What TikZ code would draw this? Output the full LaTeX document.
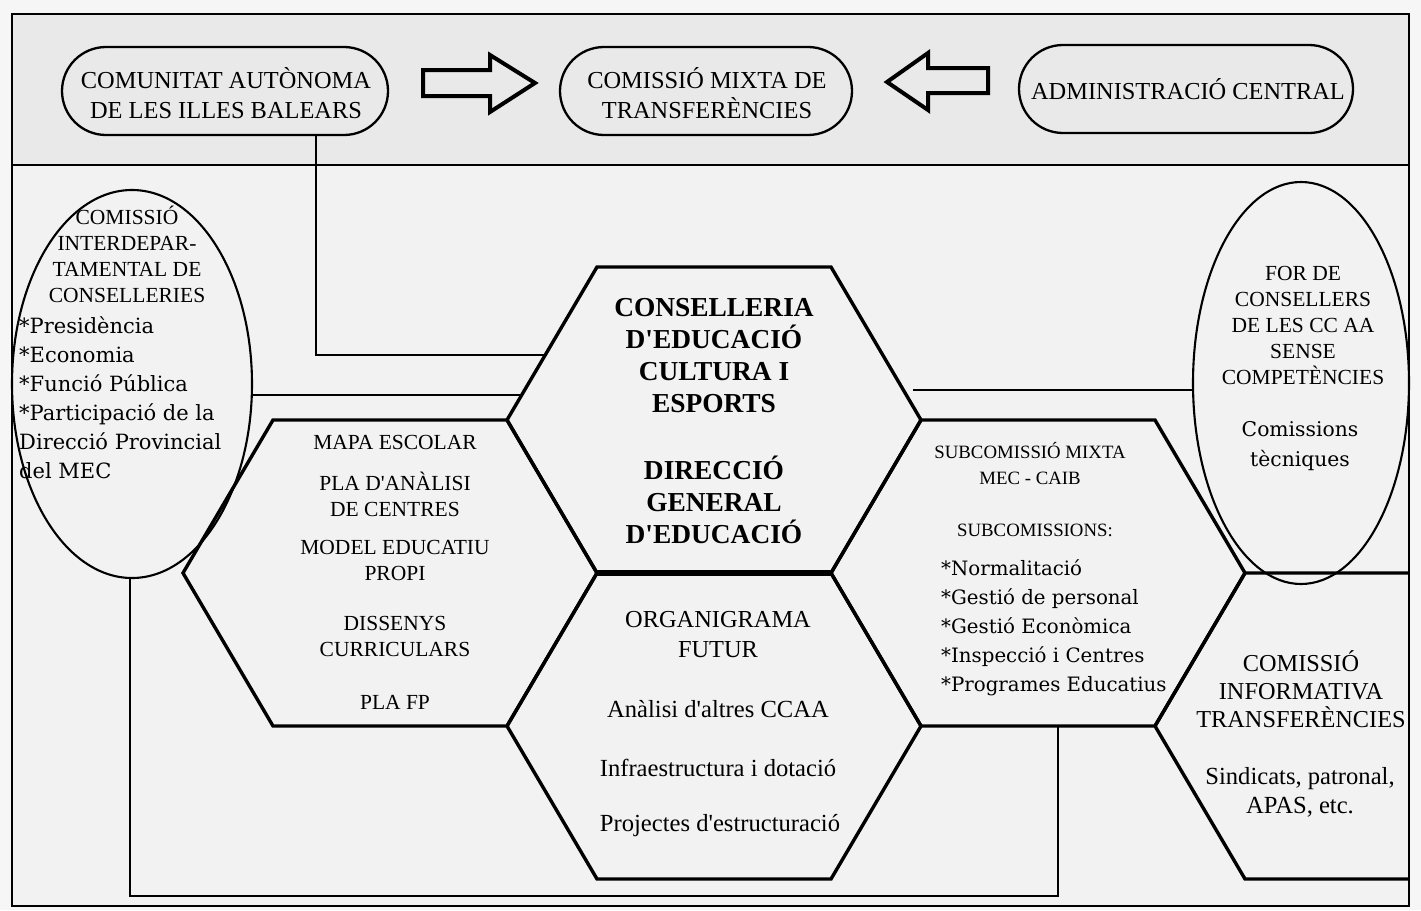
\documentclass[tikz,border=0pt]{standalone}
\usepackage{fontspec}
\setmainfont{Liberation Serif}[Ligatures=TeXOff]
\newfontfamily\widefont{DejaVu Serif}
\usetikzlibrary{shapes.geometric,shapes.misc}
\definecolor{bgc}{HTML}{F2F2F2}
\definecolor{bandc}{HTML}{E9E9E9}
\definecolor{outc}{HTML}{F6F6F6}
\begin{document}
\begin{tikzpicture}[x=1pt,y=-1pt,
  hexline/.style={line width=3.4pt, line join=miter},
  conn/.style={line width=2.6pt},
  ell/.style={draw, ellipse, line width=2.1pt, inner sep=0pt},
  stad/.style={draw, rounded rectangle, line width=2.3pt, fill=bandc, inner sep=0pt},
  blockarrow/.style={draw, line width=4pt, line join=miter, fill=bandc},
  txt/.style={align=center, inner sep=0pt},
  capsA/.style={txt, font=\fontsize{24.4pt}{30pt}\selectfont},
  capsB/.style={txt, font=\fontsize{21.5pt}{26pt}\selectfont},
  capsC/.style={txt, font=\fontsize{18.8pt}{26pt}\selectfont},
  boldC/.style={txt, font=\bfseries\fontsize{27.4pt}{32pt}\selectfont},
  lowA/.style={txt, font=\fontsize{24.6pt}{29pt}\selectfont},
  listA/.style={align=left, inner sep=0pt, font=\widefont\fontsize{21pt}{29pt}\selectfont},
  listR/.style={align=left, inner sep=0pt, font=\widefont\fontsize{19.8pt}{29pt}\selectfont},
  listB/.style={txt, font=\widefont\fontsize{20.3pt}{30pt}\selectfont}
]
\useasboundingbox (0,0) rectangle (1421,910);
\fill[outc] (0,0) rectangle (1421,910);
\fill[bgc] (12,14) rectangle (1409,906);
\fill[bandc] (12,14) rectangle (1409,165);
\draw[line width=2.4pt] (12,14) rectangle (1409,906);
\draw[line width=2.4pt] (12,165) -- (1409,165);

% top row
\node[stad, minimum width=326pt, minimum height=88pt] (caib) at (225,91) {};
\node[capsA] (caibt) at (226,93) {COMUNITAT AUTÒNOMA\\DE LES ILLES BALEARS};
\node[stad, minimum width=292pt, minimum height=88pt] (cmt) at (706,91) {};
\node[capsA] (cmtt) at (707,93) {COMISSIÓ MIXTA DE\\TRANSFERÈNCIES};
\node[stad, minimum width=334pt, minimum height=88pt] (ac) at (1186,89) {};
\node[capsA] (act) at (1188,89) {ADMINISTRACIÓ CENTRAL};
\draw[blockarrow] (423,70) -- (490,70) -- (490,55) -- (535,83) -- (490,112) -- (490,96) -- (423,96) -- cycle;
\draw[blockarrow] (988,68) -- (928,68) -- (928,53) -- (887,82) -- (928,110) -- (928,93) -- (988,93) -- cycle;

% connector coordinates
\coordinate (c1a) at (316,135);
\coordinate (c1b) at (316,355);
\coordinate (c1c) at (545,355);
\coordinate (c2a) at (252,395);
\coordinate (c2b) at (522,395);
\coordinate (c3a) at (913,390);
\coordinate (c3b) at (1193,390);
\coordinate (c4a) at (130,578);
\coordinate (c4b) at (130,896);
\coordinate (c4c) at (1058,896);
\coordinate (c4d) at (1058,726);

\draw[conn] (c1a) -- (c1b) -- (c1c);
\draw[conn] (c2a) -- (c2b);
\draw[conn] (c3a) -- (c3b);
\draw[conn] (c4a) -- (c4b) -- (c4c) -- (c4d);

% hexagons
\draw[hexline] (597,267) -- (831,267) -- (921,420) -- (831,573) -- (597,573) -- (507,420) -- cycle;
\draw[hexline] (273,420) -- (507,420) -- (597,573) -- (507,726) -- (273,726) -- (183,573) -- cycle;
\draw[hexline] (597,573) -- (831,573) -- (921,726) -- (831,879) -- (597,879) -- (507,726) -- cycle;
\draw[hexline] (921,420) -- (1155,420) -- (1245,573) -- (1155,726) -- (921,726) -- (831,573) -- cycle;
\draw[hexline] (1409,573) -- (1245,573) -- (1155,726) -- (1245,879) -- (1409,879);
\draw[line width=5.5pt] (597,573) -- (831,573);

% ellipses
\node[ell, minimum width=240pt, minimum height=388pt] (cie) at (132,384) {};
\node[ell, minimum width=216pt, minimum height=402pt] (for) at (1301,383) {};

% left ellipse text
\node[capsB] (ciet) at (127,254) {COMISSIÓ\\INTERDEPAR-\\TAMENTAL DE\\CONSELLERIES};
\node[listA, anchor=west] (ciel) at (19,398) {*Presidència\\*Economia\\*Funció Pública\\*Participació de la\\Direcció Provincial\\del MEC};

% left hex text
\node[capsB] (l1) at (395,442) {MAPA ESCOLAR};
\node[capsB] (l2) at (395,494) {PLA D'ANÀLISI\\DE CENTRES};
\node[capsB] (l3) at (395,560) {MODEL EDUCATIU\\PROPI};
\node[capsB] (l4) at (395,636) {DISSENYS\\CURRICULARS};
\node[capsB] (l5) at (395,702) {PLA FP};

% center hex text
\node[boldC] (t1) at (714,356) {CONSELLERIA\\D'EDUCACIÓ\\CULTURA I\\ESPORTS};
\node[boldC] (t2) at (714,500) {DIRECCIÓ\\GENERAL\\D'EDUCACIÓ};

% bottom hex text
\node[capsA] (b1) at (718,635) {ORGANIGRAMA\\FUTUR};
\node[lowA] (b2) at (718,709) {Anàlisi d'altres CCAA};
\node[lowA] (b3) at (718,768) {Infraestructura i dotació};
\node[lowA] (b4) at (720,826) {Projectes d'estructuració};

% right hex text
\node[capsC] (r1) at (1030,464) {SUBCOMISSIÓ MIXTA\\MEC - CAIB};
\node[capsC] (r2) at (1035,530) {SUBCOMISSIONS:};
\node[listR, anchor=west] (r3) at (941,628) {*Normalitació\\*Gestió de personal\\*Gestió Econòmica\\*Inspecció i Centres\\*Programes Educatius};

% right ellipse text
\node[capsB] (f1) at (1303,325) {FOR DE\\CONSELLERS\\DE LES CC AA\\SENSE\\COMPETÈNCIES};
\node[listB] (f2) at (1300,446) {Comissions\\tècniques};

% far right text
\node[txt, font=\fontsize{24.3pt}{28pt}\selectfont] (i1) at (1301,689) {COMISSIÓ\\INFORMATIVA\\TRANSFERÈNCIES};
\node[lowA] (i2) at (1300,792) {Sindicats, patronal,\\APAS, etc.};
\end{tikzpicture}
\end{document}
